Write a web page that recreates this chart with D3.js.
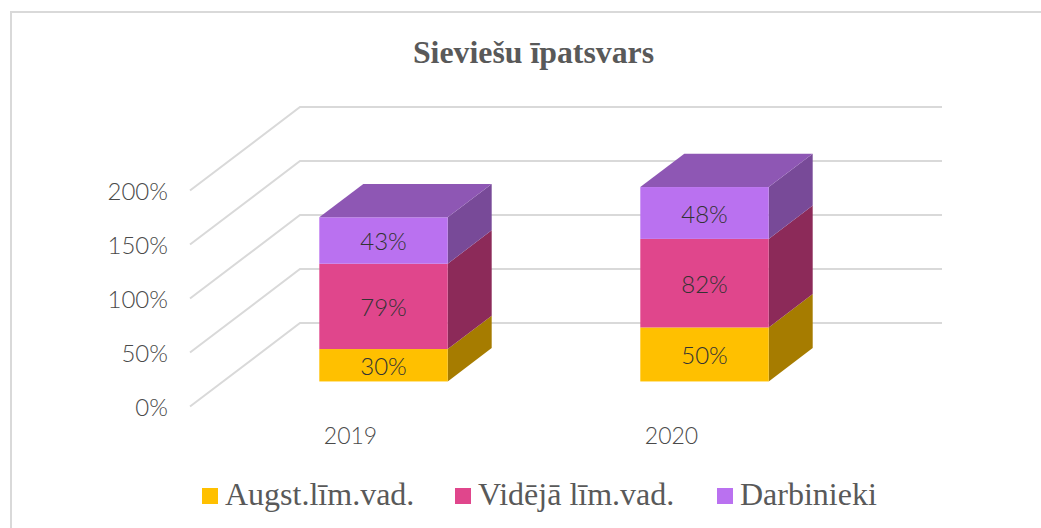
<!DOCTYPE html>
<html>
<head>
  <meta charset="utf-8">
  <title>Sieviešu īpatsvars</title>
  <script src="https://d3js.org/d3.v7.min.js"></script>
  <style>
    html, body { margin: 0; padding: 0; background: #fff; overflow: hidden; }
    svg { display: block; }
    .tick-label { font-family: Lato, sans-serif; font-weight: 300; fill: #4a4a4a; }
    .serif { font-family: "Liberation Serif", serif; fill: #595959; }
  </style>
</head>
<body>
  <svg width="1041" height="528"></svg>

  <script>
    // Data
    const years = ["2019", "2020"];
    const seriesNames = ["Augst.līm.vad.", "Vidējā līm.vad.", "Darbinieki"];
    const augstValues = [30, 50];
    const videjaValues = [79, 82];
    const darbiniekiValues = [43, 48];
    const yTicks = [0, 50, 100, 150, 200];

    // front, side, top colours per series
    const frontColors = ["#ffc000", "#e0468c", "#ba71f0"];
    const sideColors = ["#a67c00", "#8c2a59", "#784a98"];
    const topColor = "#8e57b4";

    const rows = years.map((year, i) => ({
      year,
      [seriesNames[0]]: augstValues[i],
      [seriesNames[1]]: videjaValues[i],
      [seriesNames[2]]: darbiniekiValues[i]
    }));
    const stacked = d3.stack().keys(seriesNames)(rows);

    const svg = d3.select("svg");

    // Chart frame, cut off by the window on the right and at the bottom
    svg.append("path")
      .attr("d", "M11,528V12H1041")
      .attr("fill", "none")
      .attr("stroke", "#d9d9d9")
      .attr("stroke-width", 2);

    // Scales for the front plane of the 3D box
    const x = d3.scaleBand()
      .domain(years)
      .range([190, 832])
      .paddingInner(0.6)
      .paddingOuter(0.3);

    const y = d3.scaleLinear()
      .domain([0, 200])
      .range([406.5, 190.5]);

    // Depth runs from the front plane to the back wall
    const depthX = d3.scaleLinear().domain([0, 1]).range([0, 110]);
    const depthY = d3.scaleLinear().domain([0, 1]).range([0, -83.5]);
    const barFront = 0.3;
    const barBack = 0.7;

    const px = (v, depth) => v + depthX(depth);
    const py = (v, depth) => y(v) + depthY(depth);
    const poly = pts => d3.line()(pts) + "Z";

    // Floor and wall gridlines
    const xStart = x.range()[0];
    const xEnd = x.range()[1];
    svg.append("g")
      .selectAll("path")
      .data(yTicks)
      .enter()
      .append("path")
      .attr("d", d => d3.line()([
        [xStart, py(d, 0)],
        [px(xStart, 1), py(d, 1)],
        [px(xEnd, 1), py(d, 1)]
      ]))
      .attr("fill", "none")
      .attr("stroke", "#d9d9d9")
      .attr("stroke-width", 2);

    // Bars
    const bars = svg.append("g");
    stacked.forEach((layer, s) => {
      layer.forEach(seg => {
        const year = seg.data.year;
        const left = x(year);
        const right = left + x.bandwidth();

        bars.append("path")
          .attr("d", poly([
            [px(right, barFront), py(seg[0], barFront)],
            [px(right, barBack), py(seg[0], barBack)],
            [px(right, barBack), py(seg[1], barBack)],
            [px(right, barFront), py(seg[1], barFront)]
          ]))
          .attr("fill", sideColors[s]);

        bars.append("rect")
          .attr("x", px(left, barFront))
          .attr("y", py(seg[1], barFront))
          .attr("width", x.bandwidth())
          .attr("height", y(seg[0]) - y(seg[1]))
          .attr("fill", frontColors[s]);

        if (s === stacked.length - 1) {
          bars.append("path")
            .attr("d", poly([
              [px(left, barFront), py(seg[1], barFront)],
              [px(left, barBack), py(seg[1], barBack)],
              [px(right, barBack), py(seg[1], barBack)],
              [px(right, barFront), py(seg[1], barFront)]
            ]))
            .attr("fill", topColor);
        }

        // Data label
        bars.append("text")
          .attr("class", "tick-label")
          .attr("x", px(left + x.bandwidth() / 2, barFront))
          .attr("y", py((seg[0] + seg[1]) / 2, barFront) + 1)
          .attr("dy", "0.36em")
          .attr("text-anchor", "middle")
          .attr("font-size", 24)
          .style("fill", "#333")
          .text(seg[1] - seg[0] + "%");
      });
    });

    // Axes
    const yAxis = svg.append("g")
      .attr("transform", `translate(${xStart - 22},1)`)
      .call(d3.axisLeft(y).tickValues(yTicks).tickFormat(d => d + "%").tickSize(0).tickPadding(0));
    yAxis.select(".domain").remove();
    yAxis.selectAll("text").attr("class", "tick-label").attr("font-size", 24);

    const xAxis = svg.append("g")
      .attr("transform", "translate(0,428)")
      .call(d3.axisBottom(x).tickSize(0).tickPadding(0));
    xAxis.select(".domain").remove();
    xAxis.selectAll("text").attr("class", "tick-label").attr("font-size", 23);

    // Title
    svg.append("text")
      .attr("class", "serif")
      .attr("x", 533.5)
      .attr("y", 63)
      .attr("text-anchor", "middle")
      .attr("font-size", 31.8)
      .attr("font-weight", "bold")
      .text("Sieviešu īpatsvars");

    // Legend
    const legendX = [202, 455, 717];
    const legend = svg.append("g")
      .selectAll("g")
      .data(seriesNames)
      .enter()
      .append("g")
      .attr("transform", (d, i) => `translate(${legendX[i]},488)`);
    legend.append("rect")
      .attr("width", 16)
      .attr("height", 16)
      .attr("fill", (d, i) => frontColors[i]);
    legend.append("text")
      .attr("class", "serif")
      .attr("x", 23)
      .attr("y", 17)
      .attr("font-size", 32)
      .text(d => d);
  </script>
</body>
</html>
